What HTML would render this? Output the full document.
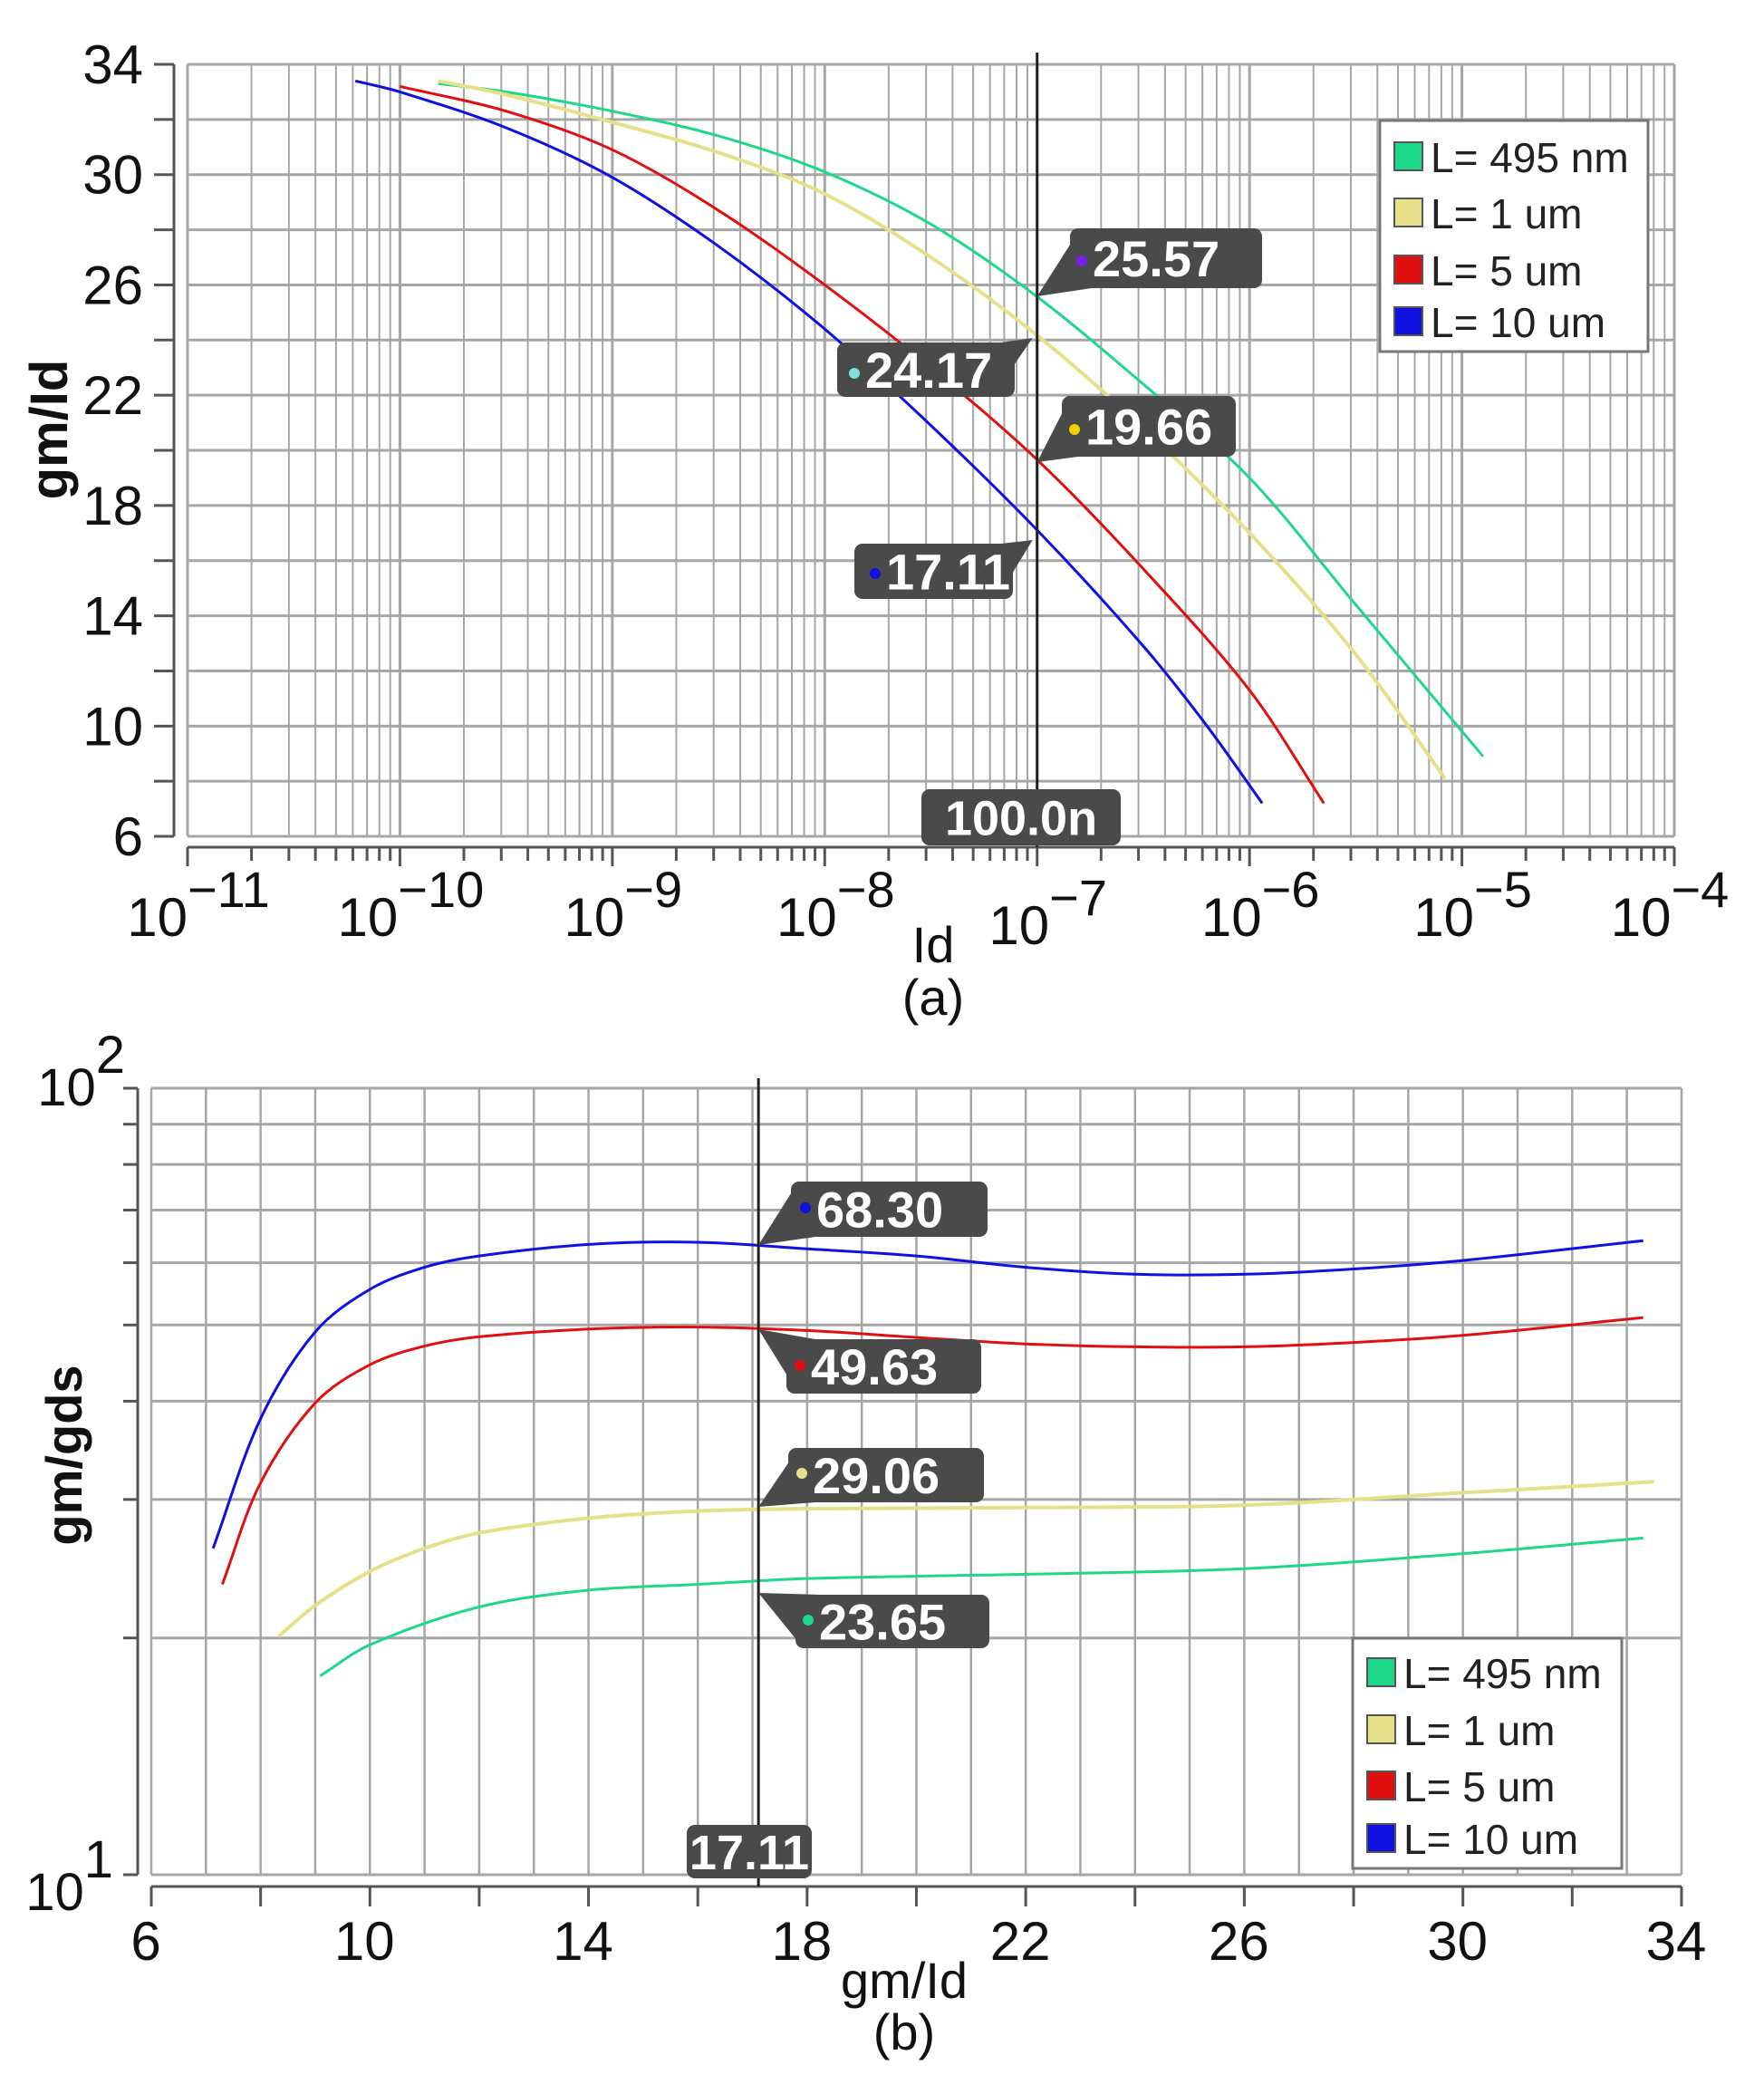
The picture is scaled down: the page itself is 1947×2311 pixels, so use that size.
<!DOCTYPE html>
<html><head><meta charset="utf-8"><style>
html,body{margin:0;padding:0;background:#fff}
svg{display:block}
text{font-family:"Liberation Sans",sans-serif}
</style></head><body>
<svg id="chart" width="1947" height="2311" viewBox="0 0 1947 2311" xmlns="http://www.w3.org/2000/svg">
<g id="grid-a"></g>
<g id="axes-a"></g>
<g id="series-a"></g>
<g id="grid-b"></g>
<g id="axes-b"></g>
<g id="series-b"></g>
<g id="annot"></g>
</svg>
<script>
// ---------- Chart (a) data: x = log10(Id), y = gm/Id ----------
const aSeriesNames = ["L= 495 nm","L= 1 um","L= 5 um","L= 10 um"];
const aColors = ["#1ed88a","#e6e08a","#e01010","#1010e0"];
const aGreenX = [-9.82,-9.5,-9,-8.5,-8,-7.5,-7,-6.5,-6,-5.5,-4.9];
const aGreenY = [33.3,33.0,32.3,31.4,30.1,28.2,25.57,22.4,19.0,14.4,8.9];
const aYellowX = [-9.82,-9.5,-9,-8.5,-8,-7.5,-7,-6.5,-6,-5.5,-5.08];
const aYellowY = [33.4,32.9,31.9,30.8,29.3,27.0,24.17,20.8,17.0,12.6,8.1];
const aRedX = [-10,-9.5,-9,-8.5,-8,-7.5,-7,-6.5,-6,-5.65];
const aRedY = [33.2,32.3,30.9,28.7,26.0,23.0,19.66,15.7,11.3,7.2];
const aBlueX = [-10.21,-10,-9.5,-9,-8.5,-8,-7.5,-7,-6.5,-6.2,-5.94];
const aBlueY = [33.4,33.0,31.7,29.9,27.4,24.4,20.9,17.11,12.9,10.0,7.2];
const aYTicks = [6,10,14,18,22,26,30,34];
const aXDecades = [-11,-10,-9,-8,-7,-6,-5,-4];
const aCursorX = -7;
const aCursorLabel = "100.0n";
const aMarkerLabels = ["25.57","24.17","19.66","17.11"];

// ---------- Chart (b) data: x = gm/Id, y = gm/gds (log) ----------
const bGreenX = [9.09,10,12,14,16,18,22,26,30,33.3];
const bGreenY = [17.9,19.6,21.9,23.0,23.4,23.8,24.1,24.5,25.6,26.8];
const bYellowX = [8.33,9,10,11,12,14,16,18,22,26,30,33.5];
const bYellowY = [20.1,22.0,24.3,26.0,27.2,28.4,29.0,29.2,29.3,29.5,30.6,31.6];
const bRedX = [7.3,8,9,10,11,12,14,16,18,20,22,24,26,28,30,33.3];
const bRedY = [23.4,31.5,39.8,44.5,47.0,48.3,49.4,49.7,49.2,48.2,47.3,46.9,46.9,47.5,48.5,51.1];
const bBlueX = [7.13,8,9,10,11,12,14,16,18,20,22,24,26,28,30,33.3];
const bBlueY = [26.0,38.0,49.0,55.5,59.2,61.2,63.3,63.7,62.5,61.2,59.2,58.0,58.0,58.9,60.4,64.0];
const bXTicks = [6,10,14,18,22,26,30,34];
const bCursorX = 17.11;
const bCursorLabel = "17.11";
const bMarkerLabels = ["68.30","49.63","29.06","23.65"];

const NS = "http://www.w3.org/2000/svg";
function mk(tag, attrs, parent){ const e=document.createElementNS(NS,tag); for(const k in attrs) e.setAttribute(k,attrs[k]); parent.appendChild(e); return e; }

// axis functions
const ax = v => 207 + (v + 11) * 234.43;
const ay = v => 71 + (34 - v) * 30.43;
const bx = v => 167 + (v - 6) * 60.32;
const by = v => 2069 - (Math.log10(v) - 1) * 868;

// monotone-ish smooth path (centripetal-like tension via neighbour chords)
function smoothPath(pts){
  let d = "M" + pts[0][0].toFixed(1) + "," + pts[0][1].toFixed(1);
  const n=pts.length;
  const tan=[];
  for(let i=0;i<n;i++){
    const p0=pts[Math.max(0,i-1)], p2=pts[Math.min(n-1,i+1)];
    tan.push([(p2[0]-p0[0]), (p2[1]-p0[1])]);
  }
  for(let i=0;i<n-1;i++){
    const p1=pts[i], p2=pts[i+1];
    const seg=Math.hypot(p2[0]-p1[0],p2[1]-p1[1]);
    const t1=tan[i], t2=tan[i+1];
    const l1=Math.hypot(t1[0],t1[1])||1, l2=Math.hypot(t2[0],t2[1])||1;
    const c1=[p1[0]+t1[0]/l1*seg/3, p1[1]+t1[1]/l1*seg/3];
    const c2=[p2[0]-t2[0]/l2*seg/3, p2[1]-t2[1]/l2*seg/3];
    d += " C"+c1[0].toFixed(1)+","+c1[1].toFixed(1)+" "+c2[0].toFixed(1)+","+c2[1].toFixed(1)+" "+p2[0].toFixed(1)+","+p2[1].toFixed(1);
  }
  return d;
}

const GRID = "#a6a6a6";
// ---------- Chart (a) grid ----------
const ga = document.getElementById("grid-a");
for(let i=0;i<aXDecades.length-1;i++){
  for(let m=1;m<=9;m++){
    const x = ax(aXDecades[i] + Math.log10(m));
    const l = mk("line",{x1:x,y1:71,x2:x,y2:923,stroke:GRID,"stroke-width":m===1?3:2},ga);
    
    
  }
}
{ const x=ax(-4); const l=mk("line",{x1:x,y1:71,x2:x,y2:923,stroke:GRID,"stroke-width":3},ga);
    }
for(let v=6; v<=34; v+=2){
  const y=ay(v);
  const l=mk("line",{x1:207,y1:y,x2:1848,y2:y,stroke:GRID,"stroke-width":3},ga);
   
}
// axes a
const aa = document.getElementById("axes-a");
mk("line",{x1:192,y1:71,x2:192,y2:923,stroke:"#555","stroke-width":3},aa);
for(let v=6; v<=34; v+=2){ const y=ay(v); mk("line",{x1:170,y1:y,x2:192,y2:y,stroke:"#555","stroke-width":3},aa); }
aYTicks.forEach(v=>{
  const t=mk("text",{x:158,y:ay(v)+21,"font-size":60,"text-anchor":"end",fill:"#111"},aa);
  t.textContent=v;
   
});
mk("line",{x1:207,y1:935,x2:1848,y2:935,stroke:"#555","stroke-width":3},aa);
for(let i=0;i<aXDecades.length;i++){
  for(let m=1;m<=9;m++){
    if(i===aXDecades.length-1 && m>1) break;
    const x=ax(aXDecades[i]+Math.log10(m));
    mk("line",{x1:x,y1:935,x2:x,y2:m===1?956:950,stroke:"#555","stroke-width":3},aa);
  }
}
aXDecades.forEach((d,i)=>{
  const cx = ax(d) + (i===aXDecades.length-1 ? -5 : 12);
  const base = d===-7 ? 1042 : 1033;
  const t=mk("text",{x:cx,y:base,"font-size":60,"text-anchor":"middle",fill:"#111"},aa);
   
  const s1=document.createElementNS(NS,"tspan"); s1.textContent="10"; t.appendChild(s1);
  const s2=document.createElementNS(NS,"tspan"); s2.setAttribute("dy","-32"); s2.setAttribute("font-size","56"); s2.textContent="\u2212"+(-d); t.appendChild(s2);
});
{ const t=mk("text",{x:0,y:0,"font-size":58,"font-weight":"bold","text-anchor":"middle",fill:"#111",transform:"translate(74,474) rotate(-90)"},aa);
  t.textContent="gm/Id";   }
{ const t=mk("text",{x:1030,y:1062,"font-size":56,"text-anchor":"middle",fill:"#111"},aa);
  t.textContent="Id";   }
{ const t=mk("text",{x:1030,y:1120,"font-size":56,"text-anchor":"middle",fill:"#111"},aa);
  t.textContent="(a)";   }

// series a
const sa=document.getElementById("series-a");
const aData=[[aGreenX,aGreenY],[aYellowX,aYellowY],[aRedX,aRedY],[aBlueX,aBlueY]];
const aNames=['series-l495nm','series-l1um','series-l5um','series-l10um'];
aData.forEach((s,k)=>{
  const pts=s[0].map((x,i)=>[ax(x),ay(s[1][i])]);
  const p=mk("path",{d:smoothPath(pts),fill:"none",stroke:aColors[k],"stroke-width":k===1?4:3},sa);
   
});

// ---------- Chart (b) grid ----------
const gb=document.getElementById("grid-b");
for(let v=6; v<=34; v+=1){
  const x=bx(v);
  const l=mk("line",{x1:x,y1:1201,x2:x,y2:2069,stroke:GRID,"stroke-width":2.5},gb);
   
}
for(let m=1;m<=10;m++){
  const y=by(m*10);
  const l=mk("line",{x1:167,y1:y,x2:1856,y2:y,stroke:GRID,"stroke-width":3},gb);
   
}
const ab=document.getElementById("axes-b");
mk("line",{x1:152,y1:1201,x2:152,y2:2069,stroke:"#555","stroke-width":3},ab);
for(let m=1;m<=10;m++){ const y=by(m*10); mk("line",{x1:136,y1:y,x2:152,y2:y,stroke:"#555","stroke-width":3},ab); }
[[2,1220],[1,2108]].forEach(([e,yy])=>{
  const t=mk("text",{x:e===2?138:125,y:yy,"font-size":58,"text-anchor":"end",fill:"#111"},ab);
   
  const s1=document.createElementNS(NS,"tspan"); s1.textContent="10"; t.appendChild(s1);
  const s2=document.createElementNS(NS,"tspan"); s2.setAttribute("dy","-36"); s2.setAttribute("font-size","58"); s2.textContent=e; t.appendChild(s2);
});
mk("line",{x1:167,y1:2082,x2:1856,y2:2082,stroke:"#555","stroke-width":3},ab);
for(let v=6; v<=34; v+=2){ const x=bx(v); mk("line",{x1:x,y1:2082,x2:x,y2:2104,stroke:"#555","stroke-width":3},ab); }
bXTicks.forEach(v=>{
  const t=mk("text",{x:bx(v)-6,y:2163,"font-size":60,"text-anchor":"middle",fill:"#111"},ab);
  t.textContent=v;  
});
{ const t=mk("text",{x:0,y:0,"font-size":56,"font-weight":"bold","text-anchor":"middle",fill:"#111",transform:"translate(90,1606) rotate(-90)"},ab);
  t.textContent="gm/gds";   }
{ const t=mk("text",{x:998,y:2205,"font-size":56,"text-anchor":"middle",fill:"#111"},ab);
  t.textContent="gm/Id";   }
{ const t=mk("text",{x:998,y:2262,"font-size":56,"text-anchor":"middle",fill:"#111"},ab);
  t.textContent="(b)";   }

const sb=document.getElementById("series-b");
const bData=[[bGreenX,bGreenY],[bYellowX,bYellowY],[bRedX,bRedY],[bBlueX,bBlueY]];
bData.forEach((s,k)=>{
  const pts=s[0].map((x,i)=>[bx(x),by(s[1][i])]);
  const p=mk("path",{d:smoothPath(pts),fill:"none",stroke:aColors[k],"stroke-width":k===1?4:3},sb);
   
});

// ---------- annotations ----------
const an=document.getElementById("annot");
{ const x=ax(aCursorX); const l=mk("line",{x1:x,y1:58,x2:x,y2:935,stroke:"#222","stroke-width":3},an);
    }
{ const x=bx(bCursorX); const l=mk("line",{x1:x,y1:1190,x2:x,y2:2082,stroke:"#222","stroke-width":3},an);
    }

function callout(name, box, tri, dot, dotColor, label, fs){
  const g=mk("g",{},an);
   
  if(tri) mk("polygon",{points:tri.map(p=>p.join(",")).join(" "),fill:"#4a4a4a"},g);
  mk("rect",{x:box[0],y:box[1],width:box[2]-box[0],height:box[3]-box[1],rx:9,fill:"#4a4a4a"},g);
  if(dot) mk("circle",{cx:dot[0],cy:dot[1],r:6,fill:dotColor},g);
  const t=mk("text",{x:(dot?dot[0]+12:(box[0]+box[2])/2),y:(box[1]+box[3])/2+fs*0.36,"font-size":fs,"font-weight":"bold",fill:"#fff","text-anchor":dot?"start":"middle"},g);
  t.textContent=label;
}
const cxA=ax(aCursorX);
callout('marker-label-25-57',[1181,252,1393,318],[[cxA,327],[1190,256],[1205,318]],[1194,288],"#7a1ef0",aMarkerLabels[0],56);
callout('marker-label-24-17',[924,378,1120,438],[[cxA-5,373],[1095,438],[1105,378]],[943,412],"#7fe0e0",aMarkerLabels[1],56);
callout('marker-label-19-66',[1172,437,1364,504],[[cxA,510],[1180,441],[1190,504]],[1186,474],"#f0d000",aMarkerLabels[2],56);
callout('marker-label-17-11',[943,600,1118,661],[[cxA-5,596],[1100,661],[1105,600]],[966,633],"#1010e0",aMarkerLabels[3],56);
callout('cursor-value-a',[1017,871,1237,933],null,null,null,aCursorLabel,54);
const cxB=bx(bCursorX);
callout('marker-label-68-30',[873,1304,1090,1365],[[cxB,1374],[880,1306],[900,1365]],[889,1333],"#1010e0",bMarkerLabels[0],56);
callout('marker-label-49-63',[868,1478,1083,1538],[[cxB,1467],[880,1536],[900,1478]],[883,1507],"#e01010",bMarkerLabels[1],56);
callout('marker-label-29-06',[870,1598,1086,1658],[[cxB,1663],[880,1600],[900,1658]],[885,1626],"#e6e08a",bMarkerLabels[2],56);
callout('marker-label-23-65',[878,1760,1092,1819],[[cxB,1758],[885,1817],[905,1760]],[892,1788],"#1ed88a",bMarkerLabels[3],56);
callout('cursor-value-b',[758,2014,896,2073],null,null,null,bCursorLabel,54);

function legend(name, bx0, by0, w, h, rows){
  const g=mk("g",{},an);
   
  mk("rect",{x:bx0,y:by0,width:w,height:h,fill:"#fff",stroke:"#777","stroke-width":3},g);
  rows.forEach((cy,i)=>{
    const r=mk("rect",{x:bx0+16,y:cy-16,width:31,height:31,fill:aColors[i],stroke:"#555","stroke-width":2},g);
     
    const t=mk("text",{x:bx0+56,y:cy+17,"font-size":46,fill:"#222"},g);
    t.textContent=aSeriesNames[i];
     
  });
}
legend('legend-a',1523,133,296,255,[173,235,298,355]);
legend('legend-b',1493,1808,297,254,[1846,1909,1971,2029]);
</script>
</body></html>
